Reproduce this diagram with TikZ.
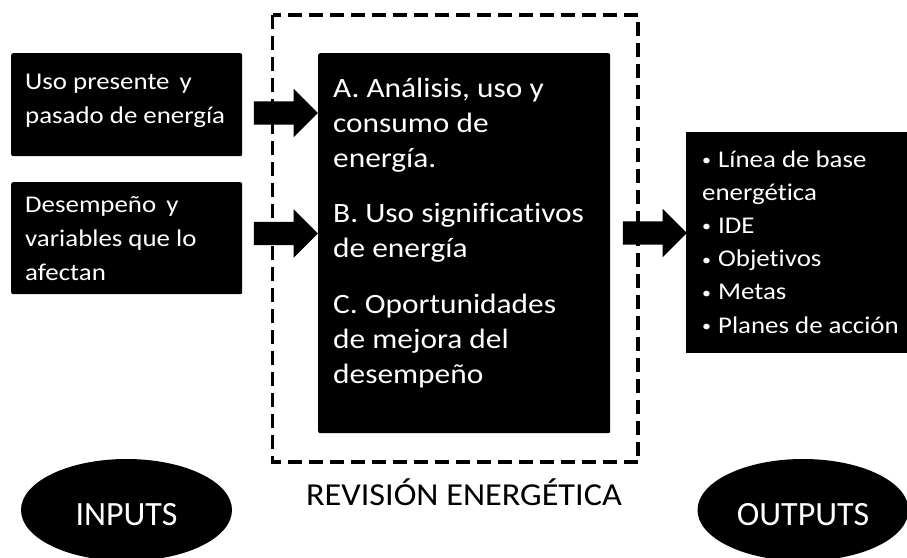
\documentclass[tikz,border=0pt]{standalone}
\usepackage{fontspec}
\setmainfont{Carlito}[Ligatures=NoCommon]
\newfontfamily\wfont{Carlito}[FakeStretch=1.12, Ligatures=NoCommon]
\newfontfamily\rfont{Carlito}[FakeStretch=1.07, Ligatures=NoCommon]
\newcommand\smbul{\raisebox{1.5pt}{\fontsize{16}{16}\selectfont•}\hskip7pt}
\usetikzlibrary{shapes.geometric,shapes.arrows}
\begin{document}
\begin{tikzpicture}[x=1pt,y=-1pt,
  blackbox/.style={fill=black, rounded corners=2pt, inner sep=0pt, anchor=north west},
  boxtext/.style={text=white, align=left, anchor=base west, inner sep=0pt},
  blockarrow/.style={single arrow, fill=black, draw=none, minimum height=64pt,
    inner xsep=0pt, inner ysep=11.5pt, text height=0pt, text depth=0pt,
    single arrow head extend=12.5pt, single arrow tip angle=90},
  oval/.style={ellipse, fill=black, minimum width=211pt, minimum height=102pt,
    inner sep=0pt, text=white, text height=30pt, text depth=0pt,
    font=\fontsize{34}{40}\selectfont},
  dashframe/.style={draw=black, line width=3.8pt, dash pattern=on 14pt off 7pt}
]
\useasboundingbox (0,0) rectangle (907,557);
\clip (0,0) rectangle (907,557);

% dashed frame
\draw[dashframe] (272.5,15) rectangle (638,462);

% input boxes
\node[blackbox, minimum width=231pt, minimum height=103pt] (in1) at (11,53) {};
\node[blackbox, minimum width=231pt, minimum height=112pt] (in2) at (11,182) {};
\node[boxtext, font=\wfont\fontsize{24}{34}\selectfont] (t1) at (25,123)
  {Uso presente\hskip4pt\ y\\pasado de energía};
\node[boxtext, font=\wfont\fontsize{24}{34}\selectfont] (t2) at (25,280)
  {Desempeño\hskip4pt\ y\\variables que lo\\afectan};

% central box
\node[blackbox, minimum width=292pt, minimum height=380pt] (rev) at (318,53) {};
\node[boxtext, font=\wfont\fontsize{28}{34.8}\selectfont] (t3) at (333,383)
  {A. Análisis, uso y\\consumo de\\energía.\\[21pt]B. Uso significativos\\de energía\\[21pt]C. Oportunidades\\de mejora del\\desempeño};

% output box
\node[blackbox, minimum width=225pt, minimum height=221pt, rounded corners=0pt] (out) at (686,132) {};
\node[boxtext, font=\wfont\fontsize{24}{33.2}\selectfont] (t4) at (702,333)
  {\smbul Línea de base\\energética\\\smbul IDE\\\smbul Objetivos\\\smbul Metas\\\smbul Planes de acción};

% block arrows
\node[blockarrow] (a1) at (280,113) {};
\node[blockarrow] (a2) at (280,233.5) {};
\node[blockarrow] (a3) at (649,233) {};

% label
\node[inner sep=0pt, anchor=base, font=\rfont\fontsize{32}{38}\selectfont] (lab) at (464,505)
  {REVISIÓN ENERGÉTICA};

% ovals
\node[oval] (inputs) at (126.5,510) {INPUTS};
\node[oval] (outputs) at (803,510) {OUTPUTS};
\end{tikzpicture}
\end{document}
